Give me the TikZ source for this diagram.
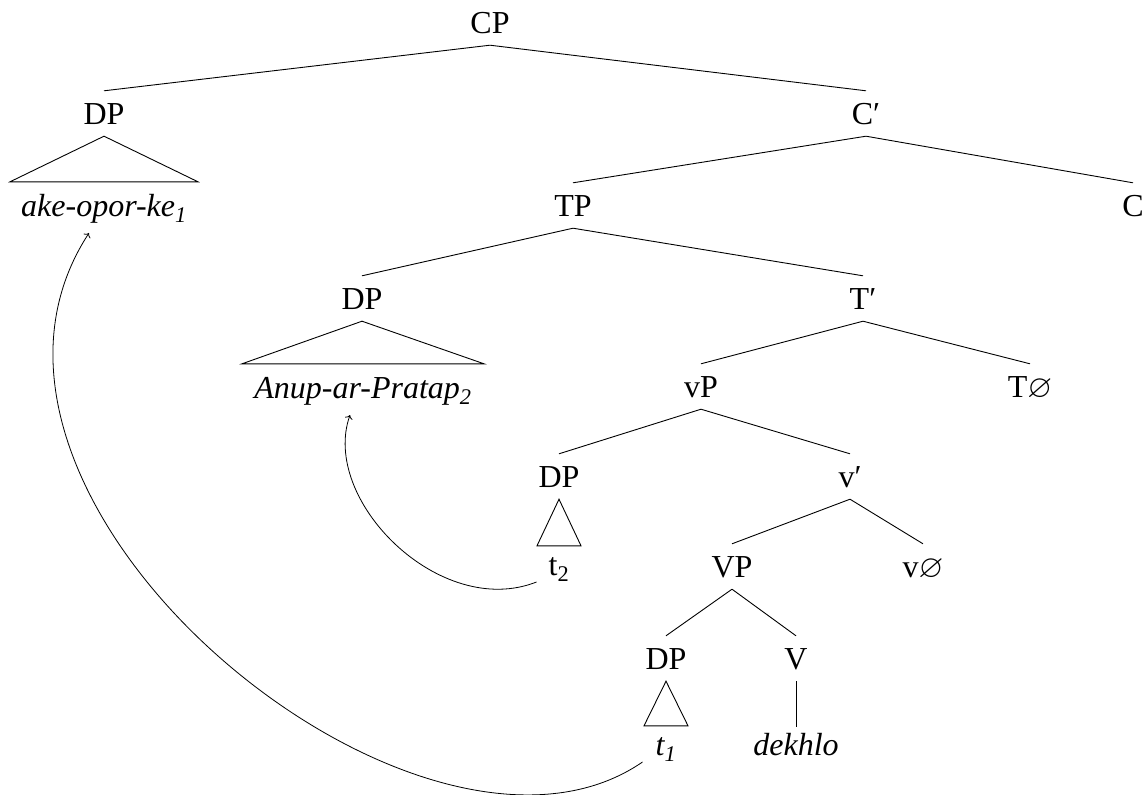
\documentclass[tikz,border=0pt]{standalone}
\usepackage{amssymb}
\usepackage{fontspec}
\setmainfont{Liberation Serif}
\usetikzlibrary{calc,arrows.meta}
\begin{document}
\begin{tikzpicture}[x=1pt,y=-1pt,
  every node/.style={font=\fontsize{32}{38}\selectfont, inner sep=0pt, anchor=base},
  inner/.style={text height=33pt, text depth=12pt},
  leaf/.style={text height=34pt, text depth=10pt},
  tleaf/.style={text height=29pt, text depth=10pt},
  branch/.style={line width=0.9pt},
  mv/.style={line width=0.8pt, -{To[length=4pt,width=8pt]}}
]
\useasboundingbox (0,0) rectangle (1146,795);
% nodes
\node[inner] (CP)   at (490,33)  {CP};
\node[inner] (DPa)  at (104,124) {DP};
\node[inner] (Cbar) at (866,124) {C′};
\node[leaf]  (ake)  at (104,216) {\itshape ake-opor-ke\textsubscript{1}};
\node[inner] (TP)   at (573,216) {TP};
\node[inner] (C)    at (1133,216) {C};
\node[inner] (DPb)  at (362,309) {DP};
\node[inner] (Tbar) at (863,309) {T′};
\node[leaf]  (anup) at (363,398) {\itshape Anup-ar-Pratap\textsubscript{2}};
\node[inner] (vP)   at (701,397) {vP};
\node[inner] (Tnull) at (1030,397) {T$\varnothing$};
\node[inner] (DPc)  at (559,487) {DP};
\node[inner] (vbar) at (850,487) {v′};
\node[tleaf] (t2)   at (559,575) {t\textsubscript{2}};
\node[inner] (VP)   at (732,577) {VP};
\node[inner] (vnull) at (923,577) {v$\varnothing$};
\node[inner] (DPd)  at (666,669) {DP};
\node[inner] (V)    at (796,669) {V};
\node[tleaf] (t1)   at (666,755) {\itshape t\textsubscript{1}};
\node[leaf, text height=28pt] (dekhlo) at (796,755) {\itshape dekhlo};
% branches
\draw[branch] (CP.south) -- (DPa.north);
\draw[branch] (CP.south) -- (Cbar.north);
\draw[branch] (Cbar.south) -- (TP.north);
\draw[branch] (Cbar.south) -- (C.north);
\draw[branch] (TP.south) -- (DPb.north);
\draw[branch] (TP.south) -- (Tbar.north);
\draw[branch] (Tbar.south) -- (vP.north);
\draw[branch] (Tbar.south) -- (Tnull.north);
\draw[branch] (vP.south) -- (DPc.north);
\draw[branch] (vP.south) -- (vbar.north);
\draw[branch] (vbar.south) -- (VP.north);
\draw[branch] (vbar.south) -- (vnull.north);
\draw[branch] (VP.south) -- (DPd.north);
\draw[branch] (VP.south) -- (V.north);
\draw[branch] (V.south) -- (dekhlo.north);
% triangles
\draw[branch] (DPa.south) -- ($(ake.north)+(-94,0)$) -- ($(ake.north)+(94,0)$) -- cycle;
\draw[branch] (DPb.south) -- ($(anup.north)+(-121,0)$) -- ($(anup.north)+(121,0)$) -- cycle;
\draw[branch] (DPc.south) -- ($(t2.north)+(-22,0)$) -- ($(t2.north)+(22,0)$) -- cycle;
\draw[branch] (DPd.south) -- ($(t1.north)+(-22,0)$) -- ($(t1.north)+(22,0)$) -- cycle;
% movement arrows
\draw[mv] ($(t2.base west)+(-12,7)$) .. controls (440,620) and (320,500) .. ($(anup.base)+(-13,17)$);
\draw[mv] ($(t1.base west)+(-13,7)$) .. controls (420,915) and (-85,500) .. ($(ake.base)+(-15,17)$);
\end{tikzpicture}
\end{document}
